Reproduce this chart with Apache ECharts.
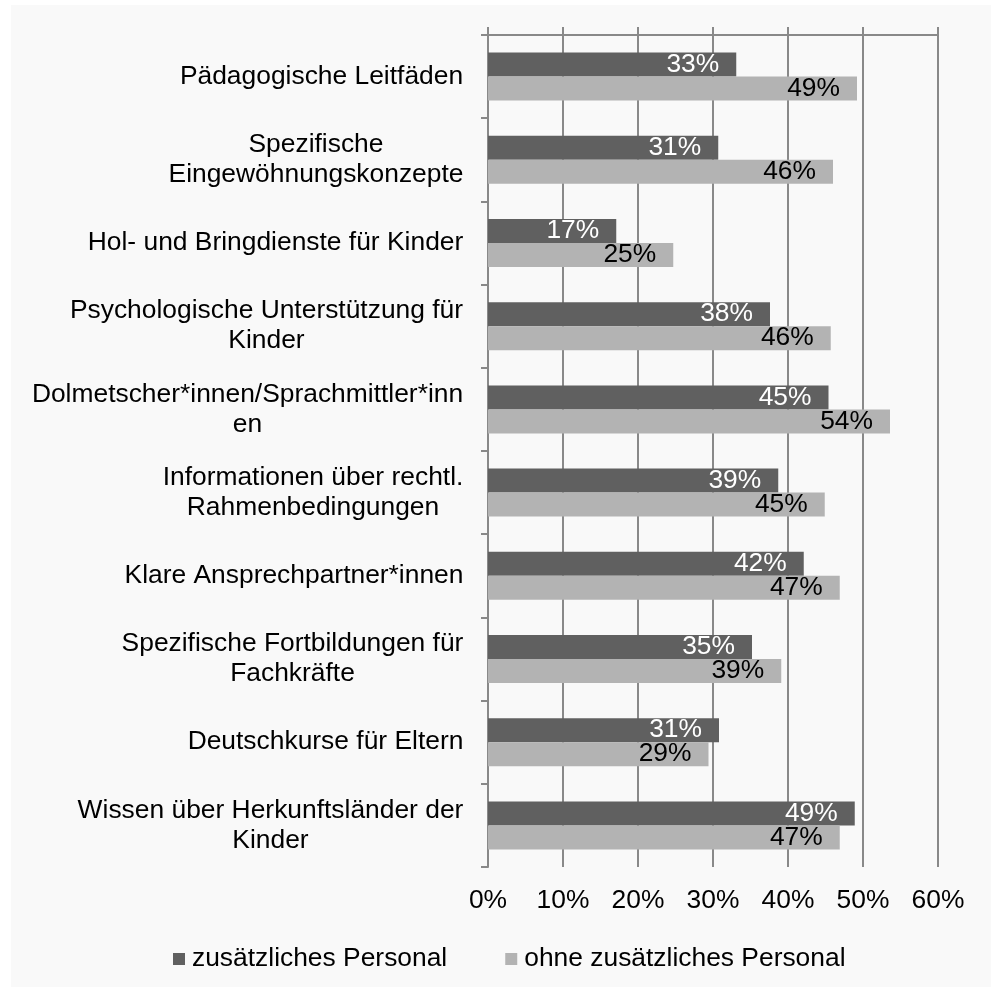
<!DOCTYPE html>
<html><head><meta charset="utf-8">
<script src="https://cdn.jsdelivr.net/npm/echarts@6/dist/echarts.min.js"></script>
<style>
html,body{margin:0;padding:0;background:#fff;}
#c{position:absolute;left:11px;top:5px;width:980px;height:982px;background:#f9f9f9;}
</style>
</head><body><div id="c"></div>
<script>
const categories = [
  'Pädagogische Leitfäden',
  'Spezifische\nEingewöhnungskonzepte',
  'Hol- und Bringdienste für Kinder',
  'Psychologische Unterstützung für\nKinder',
  'Dolmetscher*innen/Sprachmittler*inn\nen',
  'Informationen über rechtl.\nRahmenbedingungen',
  'Klare Ansprechpartner*innen',
  'Spezifische Fortbildungen für\nFachkräfte',
  'Deutschkurse für Eltern',
  'Wissen über Herkunftsländer der\nKinder'
];
const seriesNames = ['zusätzliches Personal', 'ohne zusätzliches Personal'];
const mitPersonal  = [33.1, 30.7, 17.1, 37.6, 45.4, 38.7, 42.1, 35.2, 30.8, 48.9];
const ohnePersonal = [49.2, 46.0, 24.7, 45.7, 53.6, 44.9, 46.9, 39.1, 29.4, 46.9];
const xMin = 0, xMax = 60, xStep = 10;

const FONT = '"Liberation Sans", Arial, Helvetica, sans-serif';
const FS = 26.4;
const GRID_COLOR = '#898989';
const ctx = document.createElement('canvas').getContext('2d');
ctx.font = FS + 'px "Liberation Sans"';
const rich = {};
categories.forEach((c, i) => {
  const w = Math.max(...c.split('\n').map(s => ctx.measureText(s).width));
  rich['l' + i] = {width: Math.ceil(w) + 1, align: 'center', fontSize: FS, fontFamily: FONT, color: '#000', lineHeight: 30};
});

const chart = echarts.init(document.getElementById('c'), null, {renderer: 'canvas'});
chart.setOption({
  animation: false,
  backgroundColor: '#f9f9f9',
  textStyle: {fontFamily: FONT},
  grid: {left: 477, right: 53, top: 30, bottom: 120, containLabel: false},
  legend: {
    data: seriesNames,
    left: 157, top: 936,
    icon: 'rect', itemWidth: 12, itemHeight: 12, itemGap: 58,
    textStyle: {fontSize: FS, color: '#000', fontFamily: FONT, padding: [0, 0, 0, 2]}
  },
  xAxis: [{
    type: 'value', min: xMin, max: xMax, interval: xStep, position: 'bottom',
    axisLine: {show: false}, axisTick: {show: false},
    splitLine: {show: true, lineStyle: {color: GRID_COLOR, width: 2}},
    axisLabel: {formatter: '{value}%', fontSize: FS, color: '#000', margin: 21, fontFamily: FONT}
  }, {
    type: 'value', min: xMin, max: xMax, interval: xStep, position: 'top',
    axisLine: {show: true, lineStyle: {color: GRID_COLOR, width: 2}},
    axisTick: {show: true, length: 8, inside: false, lineStyle: {color: GRID_COLOR, width: 2}},
    axisLabel: {show: false}, splitLine: {show: false}
  }],
  yAxis: {
    type: 'category', data: categories, inverse: true,
    axisLine: {show: true, lineStyle: {color: GRID_COLOR, width: 2}},
    axisTick: {show: true, length: 7, alignWithLabel: false, lineStyle: {color: GRID_COLOR, width: 2}},
    axisLabel: {
      margin: 24, fontSize: FS, color: '#000', lineHeight: 30, fontFamily: FONT,
      formatter: (v, i) => v.split('\n').map(s => '{l' + i + '|' + s + '}').join('\n'),
      rich: rich
    }
  },
  series: [{
    name: seriesNames[0], type: 'bar', data: mitPersonal, xAxisIndex: 0,
    barWidth: 24, barGap: '0%',
    itemStyle: {color: '#606060'},
    label: {show: true, position: 'insideRight', distance: 17, fontSize: FS, color: '#fff', fontFamily: FONT,
      formatter: p => Math.round(p.value) + '%'}
  }, {
    name: seriesNames[1], type: 'bar', data: ohnePersonal, xAxisIndex: 0,
    barWidth: 24, barGap: '0%',
    itemStyle: {color: '#b3b3b3'},
    label: {show: true, position: 'insideRight', distance: 17, fontSize: FS, color: '#000', fontFamily: FONT,
      formatter: p => Math.round(p.value) + '%'}
  }]
});
</script></body></html>
